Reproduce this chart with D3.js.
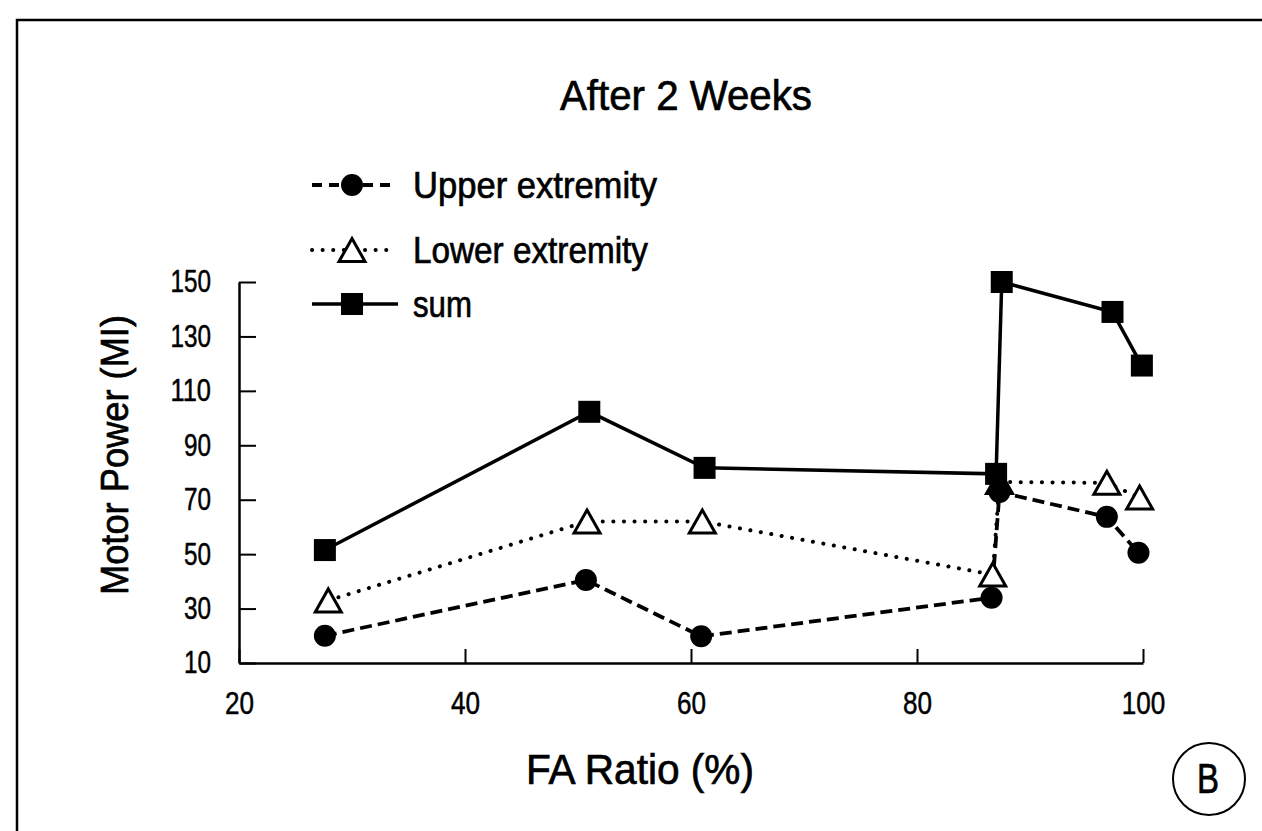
<!DOCTYPE html>
<html>
<head>
<meta charset="utf-8">
<script src="https://cdn.jsdelivr.net/npm/d3@7"></script>
<style>
  body { margin: 0; background: #fff; }
  text { font-family: "Liberation Sans", Arial, sans-serif; fill: #000; stroke: #000; stroke-width: 0.7px; }
</style>
</head>
<body>
<div id="chart"></div>
<script>
//============Data=====================
var upperX = [27.6, 50.7, 60.9, 86.6, 87.3, 96.8, 99.6];
var upperY = [20, 40.5, 19.8, 34, 72.8, 63.7, 50.5];

var lowerX = [27.9, 50.8, 61, 86.7, 87.3, 96.8, 99.7];
var lowerY = [33, 62, 62, 42.5, 76.5, 76.2, 70.8];

var sumX = [27.6, 51, 61.2, 87, 87.5, 97.3, 99.9];
var sumY = [51.5, 102.3, 81.7, 79.5, 150, 139, 119.3];

var xTicks = [20, 40, 60, 80, 100];
var yTicks = [10, 30, 50, 70, 90, 110, 130, 150];

var legendLabels = ["Upper extremity", "Lower extremity", "sum"];

//============Set up chart=====================
var svgWidth = 1262;
var svgHeight = 831;

var svg = d3.select("#chart")
  .append("svg")
  .attr("width", svgWidth)
  .attr("height", svgHeight);

// frame of the figure panel
svg.append("path")
  .attr("d", "M17,831 V20 H1262")
  .attr("fill", "none")
  .attr("stroke", "#000")
  .attr("stroke-width", 2.5);

var xScale = d3.scaleLinear().domain([20, 100]).range([239, 1143]);
var yScale = d3.scaleLinear().domain([10, 150]).range([663, 282]);

// ==========Axes=======================
var bottomAxis = d3.axisBottom(xScale)
  .tickValues(xTicks)
  .tickSizeInner(-14)
  .tickSizeOuter(0)
  .tickPadding(29);

var leftAxis = d3.axisLeft(yScale)
  .tickValues(yTicks)
  .tickSizeInner(-17)
  .tickSizeOuter(0)
  .tickPadding(28);

var xAxis = svg.append("g")
  .attr("transform", "translate(0, 663)")
  .call(bottomAxis);

var yAxis = svg.append("g")
  .attr("transform", "translate(239, 0)")
  .call(leftAxis);

[xAxis, yAxis].forEach(function(ax) {
  ax.attr("font-size", null).attr("font-family", null);
  ax.select(".domain").attr("stroke", "#000").attr("stroke-width", 2.5);
  ax.selectAll(".tick line").attr("stroke", "#000").attr("stroke-width", 2);
  ax.selectAll(".tick text")
    .style("font-size", "31px")
    .style("stroke-width", "0.5px")
    .attr("fill", "#000")
    .attr("lengthAdjust", "spacingAndGlyphs");
});

xAxis.selectAll(".tick text").attr("textLength", d => String(d).length * 14.5);
yAxis.selectAll(".tick text").attr("textLength", d => String(d).length * 13.5);

// ==========Lines and markers=======================
var line = d3.line()
  .x(d => xScale(d[0]))
  .y(d => yScale(d[1]));

var upperData = upperX.map((x, i) => [x, upperY[i]]);
var lowerData = lowerX.map((x, i) => [x, lowerY[i]]);
var sumData = sumX.map((x, i) => [x, sumY[i]]);

var triPath = "M0,-13 L13,10 L-13,10 Z";

function drawCircle(g, cx, cy) {
  g.append("circle").attr("cx", cx).attr("cy", cy).attr("r", 11).attr("fill", "#000");
}
function drawTriangle(g, cx, cy) {
  g.append("path").attr("d", triPath)
    .attr("transform", `translate(${cx}, ${cy + 1.5})`)
    .attr("fill", "#fff").attr("stroke", "#000").attr("stroke-width", 3);
}
function drawSquare(g, cx, cy) {
  g.append("rect").attr("x", cx - 11).attr("y", cy - 11)
    .attr("width", 22).attr("height", 22).attr("fill", "#000");
}

var styles = [
  { data: upperData, dash: "12,6", width: 3.8, cap: "butt", marker: drawCircle },
  { data: lowerData, dash: "0.1,10.5", width: 4, cap: "round", marker: drawTriangle },
  { data: sumData, dash: null, width: 3.5, cap: "butt", marker: drawSquare }
];

var plot = svg.append("g");

styles.forEach(function(s) {
  plot.append("path")
    .datum(s.data)
    .attr("d", line)
    .attr("fill", "none")
    .attr("stroke", "#000")
    .attr("stroke-width", s.width)
    .attr("stroke-linecap", s.cap)
    .attr("stroke-dasharray", s.dash);
});

// markers: lower extremity first, then upper, squares on top
[1, 0, 2].forEach(function(k) {
  var s = styles[k];
  var g = plot.append("g");
  s.data.forEach(d => s.marker(g, xScale(d[0]), yScale(d[1])));
});

// ==========Legend=======================
var legendRows = [185, 250, 304];
var legendLen = [244, 235, 59];
var legend = svg.append("g");

legendLabels.forEach(function(label, i) {
  var s = styles[i];
  var cy = legendRows[i];
  legend.append("line")
    .attr("x1", 312).attr("x2", i === 2 ? 398 : 395)
    .attr("y1", cy).attr("y2", cy)
    .attr("stroke", "#000")
    .attr("stroke-width", s.width)
    .attr("stroke-linecap", s.cap)
    .attr("stroke-dasharray", i === 0 ? "10,7" : s.dash);
  s.marker(legend, 352, cy);
  legend.append("text")
    .attr("x", 413)
    .attr("y", cy + 13)
    .attr("font-size", 37)
    .attr("textLength", legendLen[i])
    .attr("lengthAdjust", "spacingAndGlyphs")
    .text(label);
});

// ==========Titles=======================
svg.append("text")
  .attr("x", 686)
  .attr("y", 110)
  .attr("text-anchor", "middle")
  .attr("font-size", 42)
  .attr("textLength", 252)
  .attr("lengthAdjust", "spacingAndGlyphs")
  .text("After 2 Weeks");

svg.append("text")
  .attr("x", 640)
  .attr("y", 784)
  .attr("text-anchor", "middle")
  .attr("font-size", 42)
  .attr("textLength", 228)
  .attr("lengthAdjust", "spacingAndGlyphs")
  .text("FA Ratio (%)");

svg.append("text")
  .attr("transform", "translate(128, 455) rotate(-90)")
  .attr("text-anchor", "middle")
  .attr("font-size", 39)
  .attr("textLength", 280)
  .attr("lengthAdjust", "spacingAndGlyphs")
  .text("Motor Power (MI)");

// panel letter
svg.append("circle")
  .attr("cx", 1209).attr("cy", 779).attr("r", 36)
  .attr("fill", "none").attr("stroke", "#000").attr("stroke-width", 2);

svg.append("text")
  .attr("x", 1208)
  .attr("y", 793)
  .attr("text-anchor", "middle")
  .attr("font-size", 42)
  .attr("textLength", 22)
  .attr("lengthAdjust", "spacingAndGlyphs")
  .text("B");
</script>
</body>
</html>
